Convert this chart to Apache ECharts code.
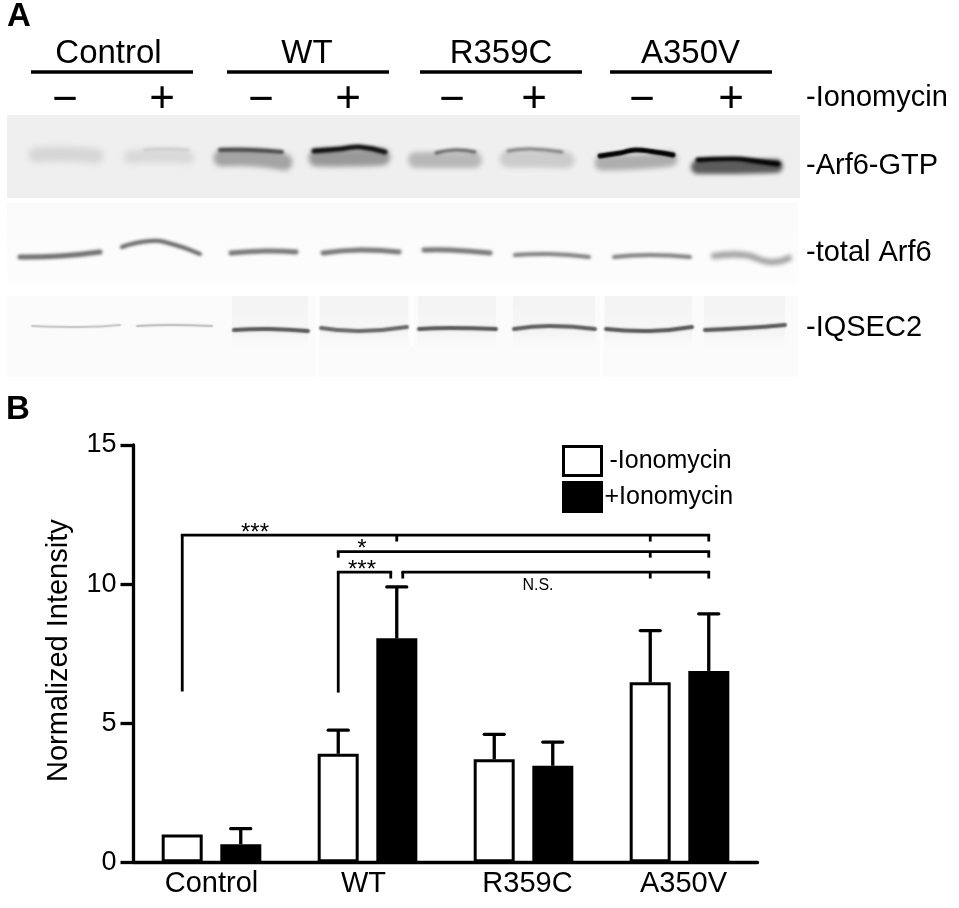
<!DOCTYPE html>
<html><head><meta charset="utf-8">
<style>html,body{margin:0;padding:0;background:#fff}#c{width:959px;height:908px}</style>
<script src="https://cdn.jsdelivr.net/npm/echarts@6/dist/echarts.min.js"></script>
</head><body><div id="c"></div>
<script>
const categories = ['Control', 'WT', 'R359C', 'A350V'];
const minusValues = [1.0, 3.9, 3.7, 6.47];
const plusValues = [0.65, 8.05, 3.47, 6.88];
const minusErrorTops = [null, 4.75, 4.6, 8.33];
const plusErrorTops = [1.21, 9.9, 4.32, 8.93];
const yTicks = { min: 0, max: 15, interval: 5 };
const bracketLevels = [11.76, 11.17, 10.43];
const bracketLegEnds = [6.14, 6.1];
const bracketTickEnds = [11.53, 10.95, 10.2];
const FONT = '"Liberation Sans", Arial, sans-serif';
const OFF = 29.25;

/* ---------- panel A drawing (gel image imitation) ---------- */
function vGrad(a,b){return {type:'linear',x:0,y:0,x2:0,y2:1,colorStops:[{offset:0,color:a},{offset:1,color:b}]};}
const blotPanels = [
  { x: 7, y: 115, w: 793, h: 83, fill: '#efefef' },
  { x: 7, y: 203, w: 791, h: 82, fill: vGrad('#fafafa','#fdfdfd') },
  { x: 7, y: 296, w: 791, h: 81, fill: '#fbfbfb' }
];
const upper = vGrad('#f3f3f3','#f7f7f7'), lower = vGrad('#f4f4f4','#fbfbfb');
const laneSpans = [[232,76],[320,88],[418,78],[513,82],[605,87],[704,81]];
const lanePatches = [];
laneSpans.forEach(s => {
  lanePatches.push({ x: s[0], y: 296, w: s[1], h: 34, fill: upper });
  lanePatches.push({ x: s[0], y: 330, w: s[1], h: 18, fill: lower });
});
lanePatches.push({ x: 316, y: 296, w: 3, h: 81, fill: '#ffffff' });
lanePatches.push({ x: 600, y: 296, w: 3, h: 81, fill: '#fefefe' });
lanePatches.push({ x: 410, y: 296, w: 4, h: 50, fill: '#fefefe' });
/* [points, stroke, width, blur] */
const blotBands = [
  // Arf6-GTP
  [[[36,155],[65,154],[96,156]], '#d6d6d6', 15, 6],
  [[[130,157],[160,156],[188,157]], '#d8d8d8', 13, 6],
  [[[144,150],[165,149],[188,150]], '#c0c0c0', 2, 3],
  [[[222,158],[255,158],[284,162]], '#a4a4a4', 17, 5],
  [[[220,150],[250,150],[282,152]], '#404040', 4, 3],
  [[[317,158],[350,158],[382,157]], '#999999', 17, 5],
  [[[314,151],[340,149],[360,147],[385,152]], '#0a0a0a', 5, 3],
  [[[416,160],[445,160],[474,160]], '#b8b8b8', 16, 5],
  [[[436,153],[455,150],[475,152]], '#555555', 3, 3],
  [[[508,159],[535,159],[566,160]], '#cccccc', 17, 5],
  [[[508,151],[530,149],[562,152]], '#777777', 3, 3],
  [[[602,163],[635,162],[670,159]], '#aeaeae', 15, 5],
  [[[600,156],[620,153],[635,150],[655,152],[673,155]], '#000000', 5, 2],
  [[[698,167],[735,167],[776,166]], '#5c5c5c', 14, 4],
  [[[698,160],[735,159],[755,161],[778,164]], '#000000', 5, 3],
  // total Arf6
  [[[20,257],[60,256],[100,252]], '#6e6e6e', 5, 3],
  [[[122,247],[150,241],[172,244],[200,254]], '#666666', 4, 3],
  [[[231,253],[265,251],[296,252]], '#777777', 5, 3],
  [[[323,253],[360,250],[399,252]], '#777777', 5, 3],
  [[[424,250],[450,250],[490,253]], '#777777', 5, 3],
  [[[515,255],[550,254],[589,257]], '#7c7c7c', 4, 3],
  [[[614,257],[650,255],[690,257]], '#7c7c7c', 4, 3],
  [[[714,256],[745,255],[770,262],[789,258]], '#a0a0a0', 6, 4],
  // IQSEC2
  [[[32,326],[80,327],[120,325]], '#bdbdbd', 2, 1.5],
  [[[137,326],[170,325],[212,326]], '#b5b5b5', 2, 1.5],
  [[[234,330],[270,329],[308,331]], '#555555', 4, 2],
  [[[321,328],[360,331],[407,327]], '#666666', 4, 2],
  [[[419,329],[450,328],[496,329]], '#555555', 4, 2],
  [[[514,329],[550,326],[595,329]], '#5c5c5c', 4, 2],
  [[[606,329],[650,331],[692,327]], '#555555', 4, 2],
  [[[705,330],[745,328],[785,325]], '#575757', 4, 2]
];
const groupRules = [[31,193],[227,389],[420,582],[610,772]];
const groupLabels = [['Control',108.5],['WT',307],['R359C',501],['A350V',690.5]];
const signs = [['\u2212',65],['+',162],['\u2212',261],['+',348],['\u2212',452],['+',534],['\u2212',642],['+',731]];
const sideLabels = [['-Ionomycin',98],['-Arf6-GTP',166],['-total Arf6',253],['-IQSEC2',328]];

const FAR = 3000;
const graphics = [];
blotPanels.concat(lanePatches).forEach(p => graphics.push({type:'rect',silent:true,z:1,
  shape:{x:p.x,y:p.y,width:p.w,height:p.h},style:{fill:p.fill}}));
/* bands are drawn off-page so that only their blurred shadow lands on the membrane */
blotBands.forEach(b => graphics.push({type:'polyline',silent:true,z:2,
  shape:{points:b[0].map(p=>[p[0]-FAR,p[1]]),smooth:0.5},
  style:{stroke:'#000',lineWidth:b[2],lineCap:'round',fill:null,shadowBlur:b[3],shadowColor:b[1],shadowOffsetX:FAR}}));
groupRules.forEach(r => graphics.push({type:'line',silent:true,z:3,
  shape:{x1:r[0],y1:72,x2:r[1],y2:72},style:{stroke:'#000',lineWidth:3.6}}));
groupLabels.forEach(l => graphics.push({type:'text',silent:true,z:3,x:l[1],y:54,
  style:{text:l[0],font:'33px '+FONT,fill:'#000',textAlign:'center',textVerticalAlign:'middle'}}));
signs.forEach(s => graphics.push({type:'text',silent:true,z:3,x:s[1],y:s[0]==='+'?99.5:100.5,
  style:{text:s[0],font:'44px '+FONT,fill:'#000',textAlign:'center',textVerticalAlign:'middle'}}));
sideLabels.forEach(l => graphics.push({type:'text',silent:true,z:3,x:806,y:l[1],
  style:{text:l[0],font:'29px '+FONT,fill:'#000',textAlign:'left',textVerticalAlign:'middle'}}));
[['A',7,17],['B',6,409.5]].forEach(l => graphics.push({type:'text',silent:true,z:3,x:l[1],y:l[2],
  style:{text:l[0],font:'bold 33px '+FONT,fill:'#000',textAlign:'left',textVerticalAlign:'middle'}}));

/* ---------- panel B ---------- */
const errorRows = [];
categories.forEach((c,i) => {
  if (minusErrorTops[i] != null) errorRows.push([i, -1, minusValues[i], minusErrorTops[i]]);
  errorRows.push([i, 1, plusValues[i], plusErrorTops[i]]);
});
function ln(x1,y1,x2,y2,w){return {type:'line',shape:{x1,y1,x2,y2},style:{stroke:'#000',lineWidth:w,lineCap:'butt'}};}
function renderError(params, api){
  const i = api.value(0), side = api.value(1);
  const x = api.coord([i,0])[0] + side*OFF;
  const yb = api.coord([i,api.value(2)])[1], yt = api.coord([i,api.value(3)])[1];
  return {type:'group',children:[ln(x,yb,x,yt,3.3),
    {type:'line',shape:{x1:x-10,y1:yt,x2:x+10,y2:yt},style:{stroke:'#000',lineWidth:3.3,lineCap:'round'}}]};
}
const bracketSpans = [
  [0, [0,-1,0], [3,1,0]],
  [1, [1,-1,0], [3,1,0]],
  [2, [1,-1,0], [1,1,-6]],
  [2, [1,1,6], [3,1,0]]
];
const bracketDrops = [
  [0, 0,-1,0, bracketLegEnds[0]], [0, 1,1,0, bracketTickEnds[0]], [0, 3,-1,0, bracketTickEnds[0]], [0, 3,1,0, bracketTickEnds[0]],
  [1, 1,-1,0, bracketTickEnds[1]], [1, 3,-1,0, bracketTickEnds[1]], [1, 3,1,0, bracketTickEnds[1]],
  [2, 1,-1,0, bracketLegEnds[1]], [2, 1,1,-6, bracketTickEnds[2]], [2, 1,1,6, bracketTickEnds[2]], [2, 3,-1,0, bracketTickEnds[2]], [2, 3,1,0, bracketTickEnds[2]]
];
const bracketNotes = [
  ['***', 0, 43.5, 11.83, 24],
  ['*', 1, -5.5, 11.24, 24],
  ['***', 1, -5.5, 10.48, 24],
  ['N.S.', 2, 14.5, 9.93, 16]
];
function xAt(api,cat,side,n){return api.coord([cat,0])[0]+side*OFF+n;}
function renderBrackets(params, api){
  const kids = [];
  bracketSpans.forEach(s=>{
    const y = api.coord([0,bracketLevels[s[0]]])[1];
    const a = xAt(api,s[1][0],s[1][1],s[1][2]), b = xAt(api,s[2][0],s[2][1],s[2][2]);
    kids.push(ln(a-1.4,y,b+1.4,y,2.8));
  });
  bracketDrops.forEach(d=>{
    const y = api.coord([0,bracketLevels[d[0]]])[1], e = api.coord([0,d[4]])[1];
    const x = xAt(api,d[1],d[2],d[3]);
    kids.push(ln(x,y,x,e,2.8));
  });
  bracketNotes.forEach(n=>{
    const x = api.coord([n[1],0])[0]+n[2], y = api.coord([0,n[3]])[1];
    kids.push({type:'text',style:{text:n[0],x,y,fill:'#000',font:n[4]+'px '+FONT,textAlign:'center',textVerticalAlign:'middle'}});
  });
  return {type:'group',children:kids};
}

const chart = echarts.init(document.getElementById('c'),null,{renderer:'canvas'});
chart.setOption({
  animation:false,
  backgroundColor:'#fff',
  textStyle:{fontFamily:FONT,color:'#000'},
  grid:{left:133.5,top:445,width:624,height:417.3,containLabel:false},
  legend:{
    orient:'vertical',left:557,top:440,itemWidth:38,itemHeight:29,itemGap:4,itemStyle:{borderColor:'#000',borderWidth:3},
    selectedMode:false,textStyle:{fontFamily:FONT,fontSize:25,color:'#000'},
    data:[{name:'-Ionomycin',icon:'rect',textStyle:{padding:[0,0,0,3]}},{name:'+Ionomycin',icon:'rect',textStyle:{padding:[0,0,0,-2]}}]
  },
  xAxis:{type:'category',
    data:[categories[0],
      {value:categories[1],textStyle:{padding:[0,8,0,0]}},
      {value:categories[2],textStyle:{padding:[0,0,0,8]}},
      {value:categories[3],textStyle:{padding:[0,0,0,8]}}],
    axisLine:{lineStyle:{color:'#000',width:3.3}},axisTick:{show:false},
    axisLabel:{fontFamily:FONT,fontSize:29,color:'#000',margin:7}},
  yAxis:{type:'value',min:yTicks.min,max:yTicks.max,interval:yTicks.interval,
    name:'Normalized Intensity',nameLocation:'middle',nameRotate:90,nameGap:60,
    nameTextStyle:{fontFamily:FONT,fontSize:29,color:'#000',padding:[0,0,0,6]},
    axisLine:{show:true,lineStyle:{color:'#000',width:3.3}},
    axisTick:{show:true,length:13,lineStyle:{color:'#000',width:3.3}},
    splitLine:{show:false},
    axisLabel:{fontFamily:FONT,fontSize:27,color:'#000',margin:17,padding:[4,0,0,0]}},
  series:[
    {name:'-Ionomycin',type:'bar',data:minusValues,barWidth:41,barGap:'43%',
      itemStyle:{color:'#fff',borderColor:'#000',borderWidth:3},z:3},
    {name:'+Ionomycin',type:'bar',data:plusValues,barWidth:41,
      itemStyle:{color:'#000',borderColor:'#000',borderWidth:3},z:3},
    {type:'custom',name:'error',data:errorRows,renderItem:renderError,clip:false,z:4,silent:true,
      encode:{x:0,y:3}},
    {type:'custom',name:'brackets',data:[[0,bracketLevels[0]]],renderItem:renderBrackets,clip:false,z:5,silent:true,
      encode:{x:0,y:1}}
  ],
  graphic:{elements:graphics}
});
</script></body></html>
